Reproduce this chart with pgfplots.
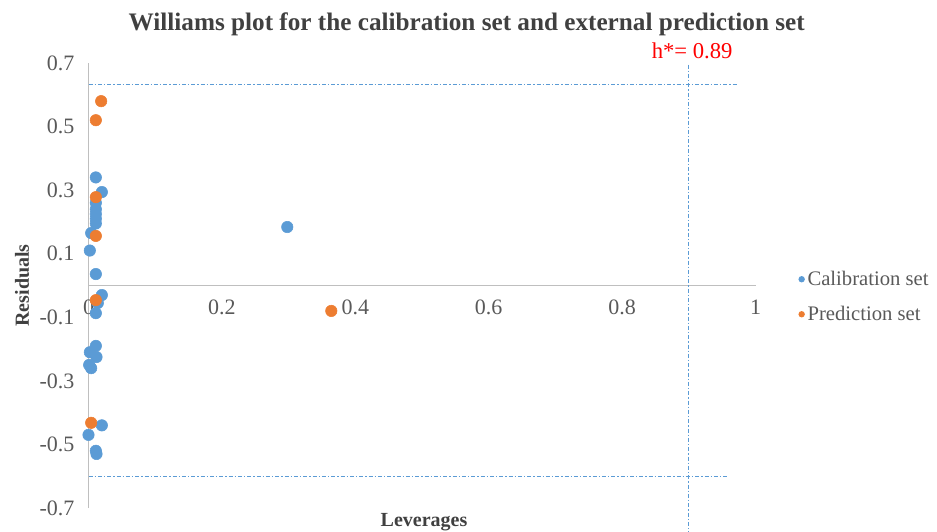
\documentclass[border=0pt]{standalone}
\usepackage{pgfplots}
\pgfplotsset{compat=1.18}
\usepackage{fontspec}
\setmainfont{Liberation Serif}
\definecolor{cblue}{HTML}{5B9BD5}
\definecolor{corange}{HTML}{ED7D31}
\definecolor{tgray}{HTML}{595959}
\definecolor{agray}{HTML}{BFBFBF}
\definecolor{ttl}{HTML}{404040}
\begin{document}
\begin{tikzpicture}
\useasboundingbox (0,0) rectangle (702.75pt,398.25pt);
\begin{axis}[
  at={(66.375pt,17.25pt)}, anchor=south west,
  scale only axis, width=500.25pt, height=333.75pt,
  xmin=0, xmax=1, ymin=-0.7, ymax=0.7,
  axis x line=middle, axis y line=left,
  axis line style={-, agray, line width=0.8pt},
  hide obscured x ticks=false,
  major tick length=0pt,
  xtick={0,0.2,0.4,0.6,0.8,1},
  xticklabels={0,0.2,0.4,0.6,0.8,1},
  ytick={-0.7,-0.5,-0.3,-0.1,0.1,0.3,0.5,0.7},
  yticklabels={-0.7,-0.5,-0.3,-0.1,0.1,0.3,0.5,0.7},
  /pgf/number format/assume math mode=true,
  tick label style={font=\fontsize{16.5pt}{19pt}\selectfont, text=tgray},
  xticklabel style={yshift=-7pt},
  yticklabel style={xshift=-7pt},
  clip=false,
  legend style={at={(1.058,0.545)}, anchor=north west, draw=none, fill=none,
    font=\fontsize{15.5pt}{18pt}\selectfont, text=tgray, row sep=10pt,
    legend cell align=left},
  legend image code/.code={\fill (0.3cm,0cm) circle (2.4pt);},
]
% reference lines
\addplot[forget plot, cblue, line width=0.6pt, dash pattern=on 3pt off 1.5pt on 1pt off 1.5pt] coordinates {(0,0.634) (0.972,0.634)};
\addplot[forget plot, cblue, line width=0.6pt, dash pattern=on 3pt off 1.5pt on 1pt off 1.5pt] coordinates {(0,-0.6) (0.959,-0.6)};
\addplot[forget plot, cblue, line width=0.6pt, dash pattern=on 3pt off 1.5pt on 1pt off 1.5pt] coordinates {(0.9,0.695) (0.9,-0.78)};
% calibration
\addplot[only marks, mark=*, mark size=4.3pt, draw=none, fill=cblue, mark options={draw=none, fill=cblue}, color=cblue] coordinates {
(0.011,0.34) (0.020,0.294) (0.011,0.26) (0.011,0.24) (0.011,0.225) (0.011,0.21) (0.011,0.195)
(0.004,0.165) (0.002,0.11) (0.011,0.036) (0.298,0.184)
(0.020,-0.03) (0.014,-0.055) (0.011,-0.087)
(0.011,-0.19) (0.002,-0.21) (0.012,-0.225) (0.001,-0.25) (0.004,-0.26)
(0.020,-0.44) (0.000,-0.47) (0.011,-0.52) (0.012,-0.53)
};
\addlegendentry{Calibration set}
% prediction
\addplot[only marks, mark=*, mark size=4.3pt, draw=none, fill=corange, mark options={draw=none, fill=corange}, color=corange] coordinates {
(0.019,0.58) (0.011,0.52) (0.011,0.278) (0.011,0.156) (0.011,-0.046) (0.004,-0.432) (0.364,-0.08)
};
\addlegendentry{Prediction set}
\node[anchor=base, font=\bfseries\fontsize{18.9pt}{22pt}\selectfont, text=ttl] at (axis cs:0.567,0.803) {Williams plot for the calibration set and external prediction set};
\node[anchor=base, font=\fontsize{17pt}{20pt}\selectfont, text=red] at (axis cs:0.905,0.715) {h*= 0.89};
\node[rotate=90, anchor=center, font=\bfseries\fontsize{15pt}{18pt}\selectfont, text=ttl] at (axis cs:-0.0997,0) {Residuals};
\node[anchor=base, font=\bfseries\fontsize{15pt}{18pt}\selectfont, text=ttl] at (axis cs:0.503,-0.759) {Leverages};
\end{axis}
\end{tikzpicture}
\end{document}
